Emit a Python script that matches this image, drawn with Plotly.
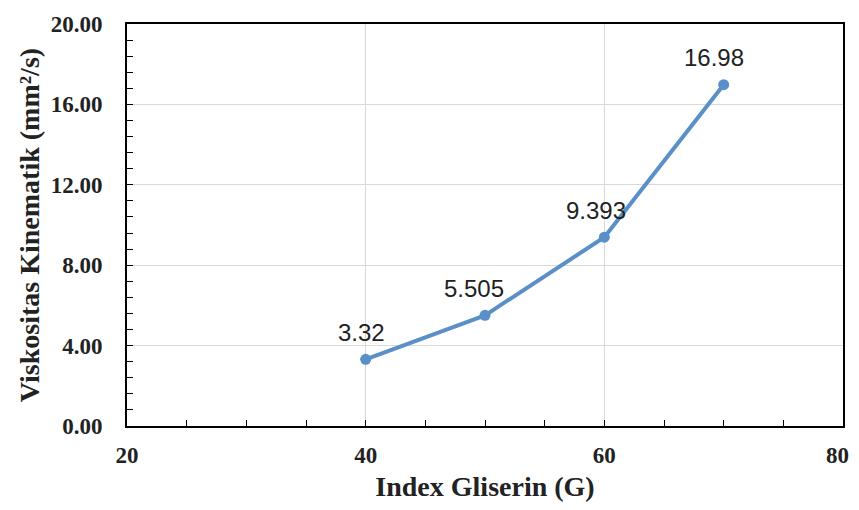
import plotly.graph_objects as go

x_vals = [40, 50, 60, 70]
y_vals = [3.32, 5.505, 9.393, 16.98]
labels = ["3.32", "5.505", "9.393", "16.98"]
label_xshift = [-4, -11, -8, -10]
x_tick_vals = [20, 40, 60, 80]
x_tick_text = ["20", "40", "60", "80"]

line_color = "#5B8FC8"
serif = "Liberation Serif, Times New Roman, serif"
tick_font = dict(family=serif, size=23, color="#222222", weight="bold")

fig = go.Figure()
fig.add_trace(go.Scatter(
    x=x_vals, y=y_vals, mode="lines+markers",
    line=dict(color=line_color, width=4),
    marker=dict(color=line_color, size=11),
    showlegend=False, cliponaxis=False,
))

for xv, yv, lab, xs in zip(x_vals, y_vals, labels, label_xshift):
    fig.add_annotation(
        x=xv, y=yv, text=lab, showarrow=False,
        xshift=xs, yshift=27,
        font=dict(family="Liberation Sans, Arial, sans-serif", size=24, color="#222222"),
    )

# the last x tick label sits at the page edge; draw it as right-anchored text
fig.add_annotation(
    x=x_tick_vals[-1], y=0, xref="x", yref="paper",
    text=x_tick_text[-1], showarrow=False,
    xanchor="right", yanchor="middle", xshift=8, yshift=-29,
    font=tick_font,
)

axis_common = dict(
    showline=True, linecolor="black", linewidth=2, mirror=True,
    gridcolor="#d9d9d9", gridwidth=1,
    ticks="inside", ticklen=6, tickcolor="black", tickwidth=1,
    tickfont=tick_font,
    zeroline=False, automargin=False,
)

fig.update_xaxes(
    range=[20, 80], tickmode="array", tickvals=x_tick_vals,
    ticktext=x_tick_text[:-1] + [""],
    ticklabelstandoff=7,
    minor=dict(dtick=5, tick0=20, ticks="inside", ticklen=6, tickcolor="black", showgrid=False),
    title=dict(text="Index Gliserin (G)", standoff=25,
               font=dict(family=serif, size=28, color="#222222", weight="bold")),
    **axis_common,
)
fig.update_yaxes(
    range=[0, 20], dtick=4, tick0=0, tickformat=".2f",
    ticklabelstandoff=18,
    minor=dict(dtick=0.8, ticks="inside", ticklen=6, tickcolor="black", showgrid=False),
    title=dict(text="Viskositas Kinematik (mm²/s)", standoff=3,
               font=dict(family=serif, size=28, color="#222222", weight="bold")),
    **axis_common,
)

fig.update_layout(
    width=851, height=494,
    margin=dict(l=119, r=16, t=16, b=76),
    paper_bgcolor="white", plot_bgcolor="white",
)

fig.write_html("out.html")
